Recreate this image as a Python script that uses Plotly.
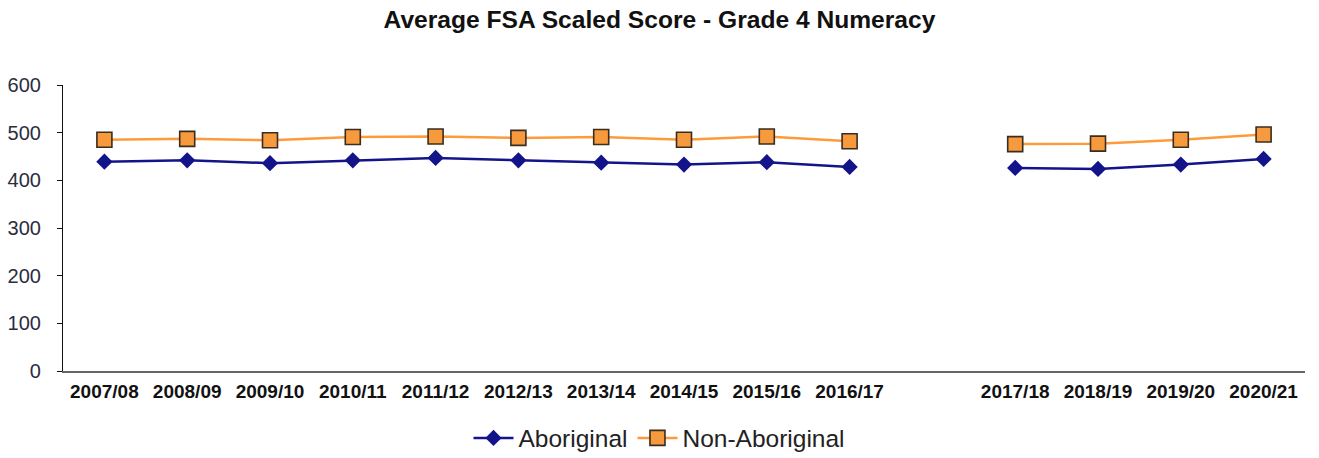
import plotly.graph_objects as go

title = "Average FSA Scaled Score - Grade 4 Numeracy"
years = ["2007/08", "2008/09", "2009/10", "2010/11", "2011/12", "2012/13", "2013/14",
         "2014/15", "2015/16", "2016/17", " ", "2017/18", "2018/19", "2019/20", "2020/21"]
aboriginal = [439, 442, 436, 442, 447, 442, 437, 433, 438, 428, None, 426, 424, 433, 445]
non_aboriginal = [485, 487, 484, 491, 492, 489, 491, 485, 492, 482, None, 476, 477, 485, 496]
y_ticks = [0, 100, 200, 300, 400, 500, 600]

fig = go.Figure()
fig.add_trace(go.Scatter(
    x=years, y=aboriginal, name="Aboriginal", mode="lines+markers",
    line=dict(color="#14148a", width=2.5),
    marker=dict(symbol="diamond", size=12.5, color="#14148a", line=dict(width=0)),
    connectgaps=False,
))
fig.add_trace(go.Scatter(
    x=years, y=non_aboriginal, name="Non-Aboriginal", mode="lines+markers",
    line=dict(color="#ff9a3a", width=2.5),
    marker=dict(symbol="square", size=15, color="#f79a3e", line=dict(width=1.6, color="#3a2c1e")),
    connectgaps=False,
))

fig.update_layout(
    width=1319, height=458,
    margin=dict(l=63, r=14, t=85, b=87),
    paper_bgcolor="white", plot_bgcolor="white",
    font=dict(family="Liberation Sans, Arial, sans-serif", color="#222"),
    title=dict(text="<b>" + title + "</b>", x=0.5, xanchor="center",
               y=1 - 19 / 458, yanchor="middle", yref="container",
               font=dict(size=24.6, color="#111")),
    showlegend=True,
    legend=dict(orientation="h", x=0.5, xanchor="center", xref="container",
                y=1 - 438 / 458, yanchor="middle", yref="container",
                font=dict(size=24.5, color="#222"), itemwidth=40),
    xaxis=dict(type="category", categoryorder="array", categoryarray=years,
               range=[-0.5, 14.5], showgrid=False, showline=True,
               linecolor="#666", linewidth=1.5, ticks="", ticklabelstandoff=2,
               automargin=False,
               tickfont=dict(size=19, color="#111", family="Liberation Sans, Arial, sans-serif", weight="bold")),
    yaxis=dict(range=[0, 600], tickvals=y_ticks, showgrid=False, showline=True,
               linecolor="#111", linewidth=1.2, ticks="outside", ticklen=5,
               tickcolor="#111", ticklabelstandoff=12, zeroline=False, automargin=False,
               tickfont=dict(size=20, color="#2a2d3e")),
)

fig.write_html("out.html", config={"displayModeBar": False},
               post_script="document.body.style.margin='0';")
